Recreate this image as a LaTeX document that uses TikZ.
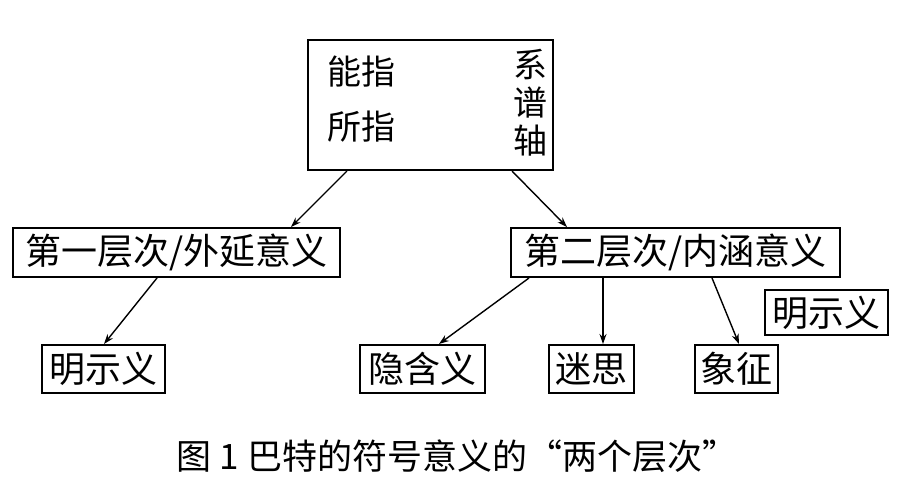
\documentclass[tikz,border=0pt]{standalone}
\usepackage{fontspec}
\setmainfont{Noto Sans CJK SC}
\usetikzlibrary{calc,arrows.meta}
\begin{document}
\begin{tikzpicture}[x=1pt,y=-1pt,
  bx/.style={draw,line width=2pt,inner sep=0pt,font=\fontsize{36}{40}\selectfont},
  tx/.style={inner sep=0pt,font=\fontsize{34}{40}\selectfont},
  arr/.style={-{Stealth[length=10pt,width=7pt]},line width=1.4pt}]
\useasboundingbox (0,0) rectangle (910,480);
\fill[white] (0,0) rectangle (910,480);
\node[bx,minimum width=245pt,minimum height=130pt] (top) at (430.5,105) {};
\node[tx] (nz) at (361,72) {能指};
\node[tx] (sz) at (361,127) {所指};
\node[tx,align=center,font=\fontsize{34}{38}\selectfont] (xp) at (530,103) {系\\谱\\轴};
\node[bx,minimum width=327pt,minimum height=49pt] (l1) at (176.5,252.5) {第一层次/外延意义};
\node[bx,minimum width=329pt,minimum height=49pt] (l2) at (675.5,252.5) {第二层次/内涵意义};
\node[bx,minimum width=123pt,minimum height=45pt] (mr) at (826.5,312.5) {明示义};
\node[bx,minimum width=123pt,minimum height=48pt] (b1) at (103.5,369) {明示义};
\node[bx,minimum width=125pt,minimum height=48pt] (b2) at (422.5,369) {隐含义};
\node[bx,minimum width=85pt,minimum height=48pt] (b3) at (591.5,369) {迷思};
\node[bx,minimum width=83pt,minimum height=48pt] (b4) at (736.5,369) {象征};
\node[tx,font=\fontsize{35}{40}\selectfont] (cap) at (457,456) {图 1 巴特的符号意义的“两个层次”};
\draw[arr] ($(top.south west)+(40,0)$) -- ($(l1.north west)+(279,0)$);
\draw[arr] ($(top.south west)+(205,0)$) -- ($(l2.north west)+(57,0)$);
\draw[arr] ($(l1.south west)+(145,0)$) -- ($(b1.north west)+(63,0)$);
\draw[arr] ($(l2.south west)+(19,0)$) -- ($(b2.north west)+(80,0)$);
\draw[arr] ($(l2.south west)+(93,0)$) -- ($(b3.north west)+(55,0)$);
\draw[arr] ($(l2.south west)+(202,0)$) -- ($(b4.north west)+(45,0)$);
\end{tikzpicture}
\end{document}
